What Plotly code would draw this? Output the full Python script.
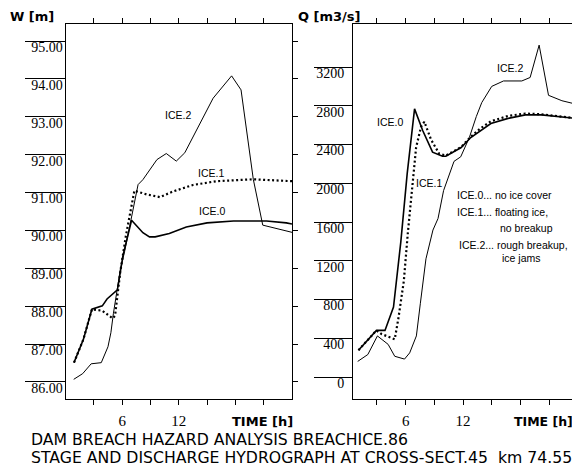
import plotly.graph_objects as go

# ---------------- data ----------------
# Left panel: stage W [m] vs time [h]
t_w_ice0 = [0.9, 1.9, 2.8, 3.9, 4.4, 5.0, 5.5, 6.1, 7.0, 8.2, 8.9, 9.5, 11.0, 12.8, 15.0, 17.8, 21.3, 23.4, 24.0]
w_ice0 = [86.51, 87.13, 87.92, 88.01, 88.19, 88.33, 88.43, 89.35, 90.27, 89.94, 89.83, 89.83, 89.92, 90.09, 90.20, 90.25, 90.25, 90.20, 90.17]

t_w_ice1 = [0.9, 1.9, 2.8, 3.9, 5.0, 5.25, 5.8, 6.4, 7.3, 8.6, 10.0, 11.4, 13.5, 16.0, 19.9, 24.0]
w_ice1 = [86.51, 87.13, 87.92, 87.88, 87.68, 87.75, 88.90, 89.86, 91.05, 90.95, 90.88, 91.03, 91.20, 91.30, 91.35, 91.30]

t_w_ice2 = [0.87, 1.82, 2.72, 3.79, 4.5, 4.81, 5.07, 5.43, 5.82, 6.26, 6.9, 7.69, 8.2, 9.69, 10.68, 11.74, 12.64, 15.64, 17.6, 18.6, 19.9, 20.9, 24.0]
w_ice2 = [86.07, 86.22, 86.48, 86.51, 86.93, 87.30, 87.80, 88.43, 88.98, 89.44, 90.20, 91.21, 91.34, 91.87, 92.03, 91.83, 92.05, 93.49, 94.08, 93.71, 91.35, 90.14, 89.95]

# Right panel: discharge Q [m3/s] vs time [h]
t_q_ice0 = [1.07, 2.95, 3.84, 4.73, 5.5, 6.16, 6.93, 7.78, 8.81, 9.85, 10.2, 11.8, 12.8, 13.8, 14.9, 16.7, 18.5, 20.2, 22.0, 23.8]
q_ice0 = [277, 481, 481, 722, 1400, 2100, 2768, 2544, 2321, 2279, 2279, 2369, 2472, 2544, 2616, 2670, 2706, 2706, 2689, 2670]

t_q_ice1 = [1.07, 2.95, 3.47, 4.86, 5.25, 5.81, 6.23, 6.76, 7.09, 7.6, 7.95, 8.65, 9.5, 10.2, 11.8, 12.8, 13.8, 14.9, 16.7, 18.5, 20.2, 22.0, 23.8]
q_ice1 = [277, 481, 444, 390, 611, 992, 1490, 2019, 2369, 2581, 2635, 2451, 2305, 2285, 2375, 2480, 2565, 2640, 2695, 2720, 2712, 2692, 2670]

t_q_ice2 = [0.99, 2.05, 3.05, 4.17, 4.86, 5.88, 6.42, 7.12, 7.53, 8.12, 8.85, 9.38, 9.96, 11.05, 11.75, 12.65, 13.38, 13.95, 14.99, 16.22, 18.13, 19.0, 19.94, 20.92, 22.32, 23.9]
q_ice2 = [161, 232, 424, 337, 214, 185, 249, 424, 756, 1220, 1517, 1636, 1924, 2226, 2273, 2472, 2689, 2833, 3000, 3056, 3056, 3092, 3426, 2908, 2852, 2814]

# ticks
x_ticks = [3, 6, 9, 12, 15, 18, 21]
x_ticktext = ["", "6", "", "12", "", "", ""]
w_ticks = [86, 87, 88, 89, 90, 91, 92, 93, 94, 95]
w_ticktext = ["86.00", "87.00", "88.00", "89.00", "90.00", "91.00", "92.00", "93.00", "94.00", "95.00"]
q_ticks = [0, 400, 800, 1200, 1600, 2000, 2400, 2800, 3200]
q_ticktext = [str(v) for v in q_ticks]

# ---------------- figure ----------------
W, H = 580, 472
OFF = 8  # page body margin (screen px -> figure px)
def px(x):
    return (x - OFF) / W
def py(y):
    return 1 - (y - OFF) / H

SERIF = "Liberation Serif"
SANS = "Liberation Sans"
BOLD = "DejaVu Sans"

fig = go.Figure()
line0 = dict(color="black", width=1.6)
line1 = dict(color="black", width=2.2, dash="2px,2.5px")
line2 = dict(color="black", width=1.0)

fig.add_trace(go.Scatter(x=t_w_ice0, y=w_ice0, mode="lines", line=line0, xaxis="x", yaxis="y"))
fig.add_trace(go.Scatter(x=t_w_ice1, y=w_ice1, mode="lines", line=line1, xaxis="x", yaxis="y"))
fig.add_trace(go.Scatter(x=t_w_ice2, y=w_ice2, mode="lines", line=line2, xaxis="x", yaxis="y"))
fig.add_trace(go.Scatter(x=t_q_ice0, y=q_ice0, mode="lines", line=line0, xaxis="x2", yaxis="y2"))
fig.add_trace(go.Scatter(x=t_q_ice1, y=q_ice1, mode="lines", line=line1, xaxis="x2", yaxis="y2"))
fig.add_trace(go.Scatter(x=t_q_ice2, y=q_ice2, mode="lines", line=line2, xaxis="x2", yaxis="y2"))
# empty helper traces so the frame (top / right) axes are drawn
fig.add_trace(go.Scatter(x=[], y=[], xaxis="x3", yaxis="y"))
fig.add_trace(go.Scatter(x=[], y=[], xaxis="x", yaxis="y3"))
fig.add_trace(go.Scatter(x=[], y=[], xaxis="x4", yaxis="y2"))
fig.add_trace(go.Scatter(x=[], y=[], xaxis="x2", yaxis="y4"))

xd1 = [px(65.5), px(292)]
xd2 = [px(353), px(578)]
yd = [py(399), py(24)]
w_range = [85.551, 95.449]
q_range = [-227, 3644]
x1_range = [0, 24]
x2_range = [0.5, 24]

common = dict(showgrid=False, zeroline=False, showline=True, linecolor="black", linewidth=1,
              tickcolor="black", tickwidth=1, automargin=False)

bottom_x = dict(common, tickvals=x_ticks, ticktext=x_ticktext, ticks="outside", ticklen=5,
                tickfont=dict(family=SERIF, size=15, color="black"), ticklabelstandoff=3)
top_x = dict(common, tickvals=x_ticks, ticks="outside", ticklen=5, showticklabels=False, side="top")

fig.update_layout(
    width=W, height=H,
    margin=dict(l=0, r=0, t=0, b=0),
    paper_bgcolor="white", plot_bgcolor="white",
    showlegend=False,
    xaxis=dict(bottom_x, domain=xd1, range=x1_range, anchor="y"),
    xaxis2=dict(bottom_x, domain=xd2, range=x2_range, anchor="y2"),
    xaxis3=dict(top_x, range=x1_range, overlaying="x", anchor="y"),
    xaxis4=dict(top_x, range=x2_range, overlaying="x2", anchor="y2"),
    yaxis=dict(common, domain=yd, range=w_range, anchor="x", tickvals=w_ticks, ticktext=w_ticktext,
               ticks="outside", ticklen=40, ticklabelposition="outside", ticklabelstandoff=-41,
               ticklabelshift=6,
               tickfont=dict(family=SERIF, size=14, color="black")),
    yaxis2=dict(common, domain=yd, range=q_range, anchor="x2", tickvals=q_ticks, ticktext=q_ticktext,
                ticks="outside", ticklen=38, ticklabelposition="outside", ticklabelstandoff=-33,
                ticklabelshift=6,
                tickfont=dict(family=SERIF, size=14, color="black")),
    yaxis3=dict(common, range=w_range, overlaying="y", anchor="x", side="right", tickvals=w_ticks,
                ticks="outside", ticklen=5, showticklabels=False),
    yaxis4=dict(common, range=q_range, overlaying="y2", anchor="x2", side="right", tickvals=q_ticks,
                ticks="outside", ticklen=5, showticklabels=False),
)

ann = []
def text(x, y, s, font, xanchor="left", xref="paper", yref="paper"):
    ann.append(dict(x=x, y=y, xref=xref, yref=yref, text=s, showarrow=False, xanchor=xanchor,
                    yanchor="middle", font=font))

bold13 = dict(family=BOLD, size=13, color="black")
text(px(8), py(17), "<b>W [m]</b>", bold13)
text(px(296), py(17), "<b>Q [m3/s]</b>", bold13)
text(px(295), py(421), "<b>TIME [h]</b>", bold13, xanchor="right")
text(px(575), py(421), "<b>TIME [h]</b>", dict(bold13, size=12.5), xanchor="right")

title_font = dict(family=BOLD, size=15.7, color="black")
text(px(29), py(439), "DAM BREACH HAZARD ANALYSIS BREACHICE.86", title_font)
text(px(29), py(457), "STAGE AND DISCHARGE HYDROGRAPH AT CROSS-SECT.45  km 74.55", title_font)

small = dict(family=SANS, size=10.5, color="black")
# curve labels (data coordinates)
text(11.9, 93.05, "ICE.2", small, xanchor="center", xref="x", yref="y")
text(15.4, 91.52, "ICE.1", small, xanchor="center", xref="x", yref="y")
text(15.5, 90.51, "ICE.0", small, xanchor="center", xref="x", yref="y")
text(4.36, 2632, "ICE.0", small, xanchor="center", xref="x2", yref="y2")
text(8.44, 2003, "ICE.1", small, xanchor="center", xref="x2", yref="y2")
text(16.9, 3190, "ICE.2", small, xanchor="center", xref="x2", yref="y2")
# explanation
text(11.15, 1879, "ICE.0... no ice cover", small, xref="x2", yref="y2")
text(11.15, 1704, "ICE.1... floating ice,", small, xref="x2", yref="y2")
text(15.65, 1538, "no breakup", small, xref="x2", yref="y2")
text(11.36, 1363, "ICE.2... rough breakup,", small, xref="x2", yref="y2")
text(15.85, 1229, "ice jams", small, xref="x2", yref="y2")

fig.update_layout(annotations=ann)
fig.write_html("out.html")
